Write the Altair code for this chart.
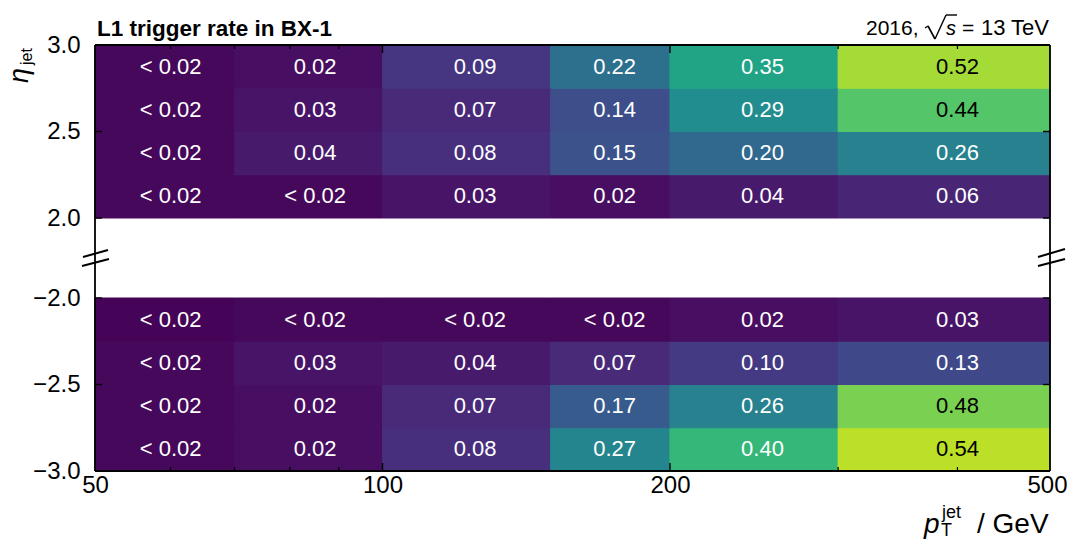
import altair as alt
import pandas as pd

# ---------------- data ----------------
pt_edges = [50, 70, 100, 150, 200, 300, 500]
eta_edges_pos = [2.0, 2.25, 2.5, 2.75, 3.0]
eta_edges_neg = [-3.0, -2.75, -2.5, -2.25, -2.0]

# rows from lowest eta bin upwards; 0.01 stands for "< 0.02"
rate_pos = [
    [0.01, 0.01, 0.03, 0.02, 0.04, 0.06],
    [0.01, 0.04, 0.08, 0.15, 0.20, 0.26],
    [0.01, 0.03, 0.07, 0.14, 0.29, 0.44],
    [0.01, 0.02, 0.09, 0.22, 0.35, 0.52],
]
rate_neg = [
    [0.01, 0.02, 0.08, 0.27, 0.40, 0.54],
    [0.01, 0.02, 0.07, 0.17, 0.26, 0.48],
    [0.01, 0.03, 0.04, 0.07, 0.10, 0.13],
    [0.005, 0.01, 0.01, 0.01, 0.02, 0.03],
]

x_major = [50, 100, 200, 500]
x_minor = [60, 70, 80, 90, 300, 400]
y_ticks_pos = [2.0, 2.5, 3.0]
y_ticks_neg = [-3.0, -2.5, -2.0]

title_text = "L1 trigger rate in BX-1"
FONT = "Liberation Sans"
W, H, GAP = 955, 173, 80
TOT = 2 * H + GAP

xs = alt.Scale(type="log", domain=[50, 500], nice=False)
cs = alt.Scale(scheme="viridis", domain=[0, 0.6])
xaxis = alt.Axis(values=x_major, format="d", ticks=False, domain=False,
                 grid=False, title=None, labelFont=FONT, labelFontSize=24,
                 labelColor="black", labelPadding=2, labelFlush=False,
                 labelOverlap=False, labelBound=False,
                 labelOffset={"condition": {"test": "datum.value == 500", "value": -3},
                              "value": 0})


def cells(rates, edges):
    rows = []
    for i, row in enumerate(rates):
        for j, v in enumerate(row):
            lo, hi = pt_edges[j], pt_edges[j + 1]
            rows.append(dict(
                xlo=lo, xhi=hi, xmid=(lo + hi) / 2,
                ylo=edges[i], yhi=edges[i + 1], ymid=(edges[i] + edges[i + 1]) / 2,
                v=v,
                lab="< 0.02" if v < 0.02 else f"{v:.2f}",
                dark=v > 0.42,
            ))
    return pd.DataFrame(rows)


def txt(s, x, y, size, align="left", weight="normal", style="normal", angle=0):
    return alt.Chart(pd.DataFrame({"t": [s]})).mark_text(
        align=align, baseline="alphabetic", font=FONT, fontSize=size,
        fontWeight=weight, fontStyle=style, angle=angle, color="black",
    ).encode(text="t:N", x=alt.value(x), y=alt.value(y))


def seg(x1, y1, x2, y2, w=1.6):
    return alt.Chart(pd.DataFrame({"k": [0]})).mark_rule(
        color="black", strokeWidth=w, clip=False
    ).encode(x=alt.value(x1), y=alt.value(y1), x2=alt.value(x2), y2=alt.value(y2))


def panel(rates, edges, yticks, r0, r1, bottom):
    df = cells(rates, edges)
    ys = alt.Scale(domain=[edges[0], edges[-1]], range=[r0, r1], nice=False, zero=False)
    yaxis = alt.Axis(values=yticks, format=".1f", ticks=False, domain=False,
                     grid=False, title=None, labelFont=FONT, labelFontSize=24,
                     labelColor="black", labelPadding=15, orient="left")
    rect = alt.Chart(df).mark_rect(strokeWidth=1).encode(
        x=alt.X("xlo:Q", scale=xs, axis=xaxis),
        x2="xhi:Q",
        y=alt.Y("ylo:Q", scale=ys, axis=yaxis),
        y2="yhi:Q",
        color=alt.Color("v:Q", scale=cs, legend=None),
        stroke=alt.Stroke("v:Q", scale=cs, legend=None),
    )
    lab = alt.Chart(df).mark_text(font=FONT, fontSize=22, baseline="middle").encode(
        x=alt.X("xmid:Q", scale=xs, axis=xaxis),
        y=alt.Y("ymid:Q", scale=ys, axis=yaxis),
        text="lab:N",
        color=alt.condition("datum.dark", alt.value("black"), alt.value("white")),
    )
    ydf = pd.DataFrame({"y": yticks})
    yl = alt.Chart(ydf).mark_rule(color="black", strokeWidth=1.4).encode(
        y=alt.Y("y:Q", scale=ys, axis=yaxis), x=alt.value(0), x2=alt.value(7))
    yr = alt.Chart(ydf).mark_rule(color="black", strokeWidth=1.4).encode(
        y=alt.Y("y:Q", scale=ys, axis=yaxis), x=alt.value(W), x2=alt.value(W - 7))
    edge = r0 if bottom else r1
    sgn = -1 if bottom else 1
    tmaj = alt.Chart(pd.DataFrame({"x": x_major[1:-1]})).mark_rule(
        color="black", strokeWidth=1.4).encode(
        x=alt.X("x:Q", scale=xs, axis=xaxis), y=alt.value(edge), y2=alt.value(edge + sgn * 8))
    tmin = alt.Chart(pd.DataFrame({"x": x_minor})).mark_rule(
        color="black", strokeWidth=1.2).encode(
        x=alt.X("x:Q", scale=xs, axis=xaxis), y=alt.value(edge), y2=alt.value(edge + sgn * 4))
    return alt.layer(rect, lab, yl, yr, tmaj, tmin)


top = panel(rate_pos, eta_edges_pos, y_ticks_pos, H, 0, bottom=False)
bot = panel(rate_neg, eta_edges_neg, y_ticks_neg, TOT, H + GAP, bottom=True)

decor = [
    seg(0, 0, W, 0, 1.8),
    seg(0, TOT, W, TOT, 1.8),
    seg(0, 0, 0, TOT, 1.8),
    seg(W, 0, W, TOT, 1.8),
    # axis break marks
    seg(-12, 212, 13, 205, 2),
    seg(-13, 221, 14, 214, 2),
    seg(943, 212, 970, 204, 2),
    seg(943, 221, 970, 214, 2),
    # header
    txt(title_text, 2, -9, 22.5, weight="bold"),
    txt("2016,", 771, -10, 21),
    seg(830, -17, 833, -19, 1.4),
    seg(833, -19, 840, -6, 1.6),
    seg(840, -6, 851, -30, 1.4),
    seg(851, -30, 862, -30, 1.4),
    txt("s", 851, -10, 20, style="italic"),
    txt("=", 867, -10, 21),
    txt("13 TeV", W - 1, -10, 22, align="right"),
    # axis titles
    txt("\u03b7", -67, 38, 27, style="italic", angle=270),
    txt("jet", -63, 20, 16, angle=270),
    txt("p", 829, TOT + 62, 28, style="italic"),
    txt("T", 846, TOT + 65, 18),
    txt("jet", 847, TOT + 47, 18),
    txt("/ GeV", 882, TOT + 62, 28),
]

chart = alt.layer(top, bot, *decor).resolve_scale(y="independent").properties(
    width=W, height=TOT,
    autosize=alt.AutoSizeParams(type="none"),
    padding={"left": 87, "top": 37, "right": 17, "bottom": 68},
    background="white",
).configure_view(stroke=None)

chart.save("out.html", embed_options={"renderer": "svg", "actions": False})
